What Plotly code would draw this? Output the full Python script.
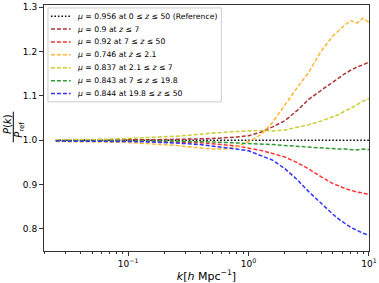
import plotly.graph_objects as go

k = [0.025, 0.04, 0.063, 0.1, 0.158, 0.251, 0.316, 0.398, 0.501, 0.631, 0.794,
     1.0, 1.26, 1.58, 2.0, 2.51, 3.16, 3.98, 5.01, 5.62, 6.31, 7.08, 7.94, 8.91, 10.0]

ref =    [1.0] * 25
dred =   [1.000, 1.000, 1.001, 1.001, 1.001, 1.002, 1.002, 1.003, 1.004, 1.005, 1.007,
          1.010, 1.018, 1.030, 1.044, 1.066, 1.092, 1.112, 1.132, 1.141, 1.150, 1.158, 1.165, 1.170, 1.176]
red =    [0.999, 0.999, 0.998, 0.998, 0.997, 0.996, 0.995, 0.994, 0.992, 0.990, 0.987,
          0.982, 0.977, 0.970, 0.962, 0.950, 0.935, 0.918, 0.902, 0.897, 0.891, 0.887, 0.883, 0.881, 0.877]
orange = [0.997, 0.997, 0.996, 0.995, 0.992, 0.988, 0.985, 0.982, 0.980, 0.980, 0.985,
          0.997, 1.012, 1.040, 1.080, 1.117, 1.153, 1.200, 1.235, 1.248, 1.260, 1.270, 1.264, 1.275, 1.266]
yellow = [1.001, 1.001, 1.002, 1.004, 1.006, 1.009, 1.011, 1.014, 1.016, 1.018, 1.020,
          1.021, 1.022, 1.021, 1.023, 1.029, 1.035, 1.043, 1.053, 1.058, 1.066, 1.072, 1.080, 1.088, 1.094]
green =  [0.999, 0.999, 0.999, 0.999, 0.998, 0.998, 0.997, 0.997, 0.996, 0.995, 0.994,
          0.992, 0.991, 0.990, 0.988, 0.986, 0.985, 0.983, 0.981, 0.980, 0.980, 0.979, 0.978, 0.980, 0.979]
blue =   [0.998, 0.998, 0.997, 0.997, 0.996, 0.994, 0.992, 0.990, 0.987, 0.984, 0.980,
          0.976, 0.966, 0.955, 0.936, 0.912, 0.884, 0.858, 0.833, 0.822, 0.812, 0.803, 0.797, 0.790, 0.786]

names = [
    "<i>μ</i> = 0.956 at 0 ≤ <i>z</i> ≤ 50 (Reference)",
    "<i>μ</i> = 0.9 at <i>z</i> ≤ 7",
    "<i>μ</i> = 0.92 at 7 ≤ <i>z</i> ≤ 50",
    "<i>μ</i> = 0.746 at <i>z</i> ≤ 2.1",
    "<i>μ</i> = 0.837 at 2.1 ≤ <i>z</i> ≤ 7",
    "<i>μ</i> = 0.843 at 7 ≤ <i>z</i> ≤ 19.8",
    "<i>μ</i> = 0.844 at 19.8 ≤ <i>z</i> ≤ 50",
]
series = [ref, dred, red, orange, yellow, green, blue]
colors = ["#000000", "#aa3535", "#ff3333", "#ffb733", "#cccc33", "#339933", "#3333ff"]
dashes = ["1.5px,2px", "4px,2px", "4px,2px", "4px,2px", "4px,2px", "4px,2px", "4px,2px"]

FONT = "DejaVu Sans"
L, R, T, B = 44, 7, 2, 32
W, H = 379, 283
pw, ph = W - L - R, H - T - B

def px(x):
    return (x - L) / pw

def py(y):
    return (H - B - y) / ph

fig = go.Figure()
for nm, ys, c, d in zip(names, series, colors, dashes):
    fig.add_trace(go.Scatter(x=k, y=ys, mode="lines", name=nm, showlegend=False,
                             line=dict(color=c, dash=d, width=1.5)))

# legend drawn by hand for compact spacing
fig.add_shape(type="rect", xref="paper", yref="paper", x0=px(48), x1=px(223), y0=py(100), y1=py(5),
              fillcolor="rgba(255,255,255,0.8)", line=dict(color="#cccccc", width=1), layer="above")
y_first, step = 13.3, 13.05
for i, (nm, c, d) in enumerate(zip(names, colors, dashes)):
    yy = y_first + i * step
    fig.add_shape(type="line", xref="paper", yref="paper", x0=px(51), x1=px(71), y0=py(yy), y1=py(yy),
                  line=dict(color=c, dash=d, width=1.5), layer="above")
    fig.add_annotation(xref="paper", yref="paper", x=px(75), y=py(yy), text=nm, showarrow=False,
                       xanchor="left", yanchor="middle", font=dict(size=7.7))

fig.update_layout(
    width=W, height=H,
    margin=dict(l=L, r=R, t=T, b=B),
    paper_bgcolor="white", plot_bgcolor="white",
    font=dict(family=FONT, size=9, color="black"),
    showlegend=False,
    xaxis=dict(type="log", range=[-1.7, 1.0005], showgrid=False, zeroline=False,
               showline=True, linecolor="#333333", linewidth=1, mirror=True,
               ticks="outside", ticklen=4, tickcolor="#333333", ticklabeloverflow="allow",
               tickvals=[0.1, 1, 10], ticktext=["10<sup>−1</sup>", "10<sup>0</sup>", "10<sup>1</sup>"],
               minor=dict(ticks="outside", ticklen=2, tickcolor="#333333",
                          tickvals=[0.02, 0.03, 0.04, 0.05, 0.06, 0.07, 0.08, 0.09,
                                    0.2, 0.3, 0.4, 0.5, 0.6, 0.7, 0.8, 0.9,
                                    2, 3, 4, 5, 6, 7, 8, 9]),
               title=dict(text="<i>k</i>[<i>h</i> Mpc<sup>−1</sup>]", font=dict(size=11), standoff=4)),
    yaxis=dict(range=[0.75, 1.305], showgrid=False, zeroline=False,
               showline=True, linecolor="#333333", linewidth=1, mirror=True,
               ticks="outside", ticklen=4, tickcolor="#333333", ticklabeloverflow="allow",
               tickvals=[0.8, 0.9, 1.0, 1.1, 1.2, 1.3],
               ticktext=["0.8", "0.9", "1.0", "1.1", "1.2", "1.3"]),
)

fig.add_annotation(xref="paper", yref="paper", x=px(7), y=py(122), text="<i>P</i>(<i>k</i>)",
                   textangle=-90, showarrow=False, font=dict(size=10),
                   xanchor="center", yanchor="middle")
fig.add_annotation(xref="paper", yref="paper", x=px(19), y=py(128), text="<i>P</i><sub>ref</sub>",
                   textangle=-90, showarrow=False, font=dict(size=10),
                   xanchor="center", yanchor="middle")
fig.add_shape(type="line", xref="paper", yref="paper", x0=px(13), x1=px(13), y0=py(141), y1=py(110),
              line=dict(color="black", width=1))

fig.write_html("out.html", config={"displayModeBar": False},
               post_script="document.body.style.margin='0';")
